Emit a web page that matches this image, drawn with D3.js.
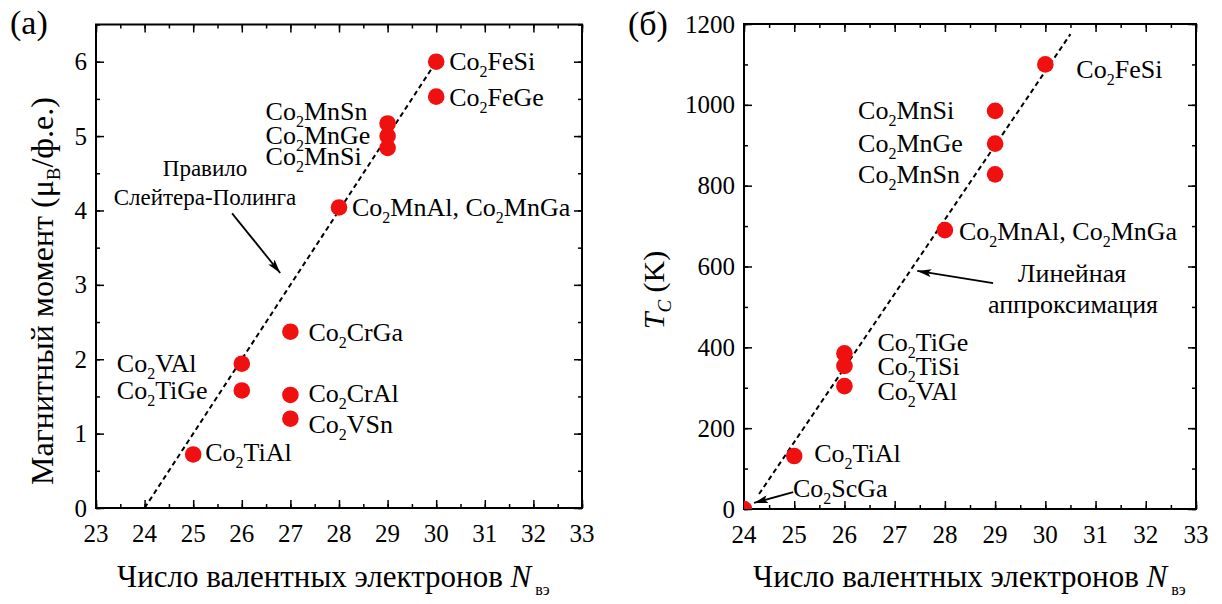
<!DOCTYPE html>
<html><head><meta charset="utf-8">
<script src="https://cdn.jsdelivr.net/npm/d3@7"></script>
</head>
<body style="margin:0;background:#fff">
<svg id="c" width="1222" height="604" font-family="Liberation Serif" style="display:block"></svg>
<script>
// ---------- DATA ----------
// Panel (a): magnetic moment vs number of valence electrons
const momentNames = ["Co2FeSi","Co2FeGe","Co2MnSn","Co2MnGe","Co2MnSi","Co2MnAl, Co2MnGa","Co2CrGa","Co2VAl","Co2TiGe","Co2CrAl","Co2VSn","Co2TiAl"];
const momentN     = [30, 30, 29, 29, 29, 28, 27, 26, 26, 27, 27, 25];
const momentM     = [6.0, 5.53, 5.17, 5.0, 4.84, 4.04, 2.37, 1.94, 1.58, 1.52, 1.2, 0.72];
const slaterN     = [24.0, 29.9];
const slaterM     = [0.0, 5.9];
const momentXTicks = [23,24,25,26,27,28,29,30,31,32,33];
const momentYTicks = [0,1,2,3,4,5,6];

// Panel (б): Curie temperature vs number of valence electrons
const tcNames = ["Co2FeSi","Co2MnSi","Co2MnGe","Co2MnSn","Co2MnAl, Co2MnGa","Co2TiGe","Co2TiSi","Co2VAl","Co2TiAl","Co2ScGa"];
const tcN     = [30, 29, 29, 29, 28, 26, 26, 26, 25, 24];
const tcT     = [1100, 985, 904, 828, 690, 385, 354, 304, 131, 0];
const fitN    = [24.3, 30.5];
const fitT    = [37, 1175];
const tcXTicks = [24,25,26,27,28,29,30,31,32,33];
const tcYTicks = [0,200,400,600,800,1000,1200];

// ---------- LAYOUT (pixel offsets of labels relative to their points) ----------
const momentLabelOff = [[13,8],[13,9],[-122,-3],[-122,7.5],[-122,17.5],[13,9],[18,9],[-125,8],[-125,9],[18,7],[18,14],[12,7]];
const tcLabelOff = [[31,14],[-137,8.5],[-137,8],[-137,9],[14,10],[33,-2],[33,9.5],[33,14],[20,5.5],[49,-12]];

const FONT = "Liberation Serif";
const svg = d3.select("#c");
const RED = "#f01010";

function addFormula(sel, str){
  // digits inside a formula are drawn as subscripts
  const parts = str.split(/(\d)/).filter(p=>p!=="");
  let pendingUp = false;
  parts.forEach(p=>{
    if(/^\d$/.test(p)){
      sel.append("tspan").attr("font-size",16).attr("dy",7).text(p);
      pendingUp = true;
    } else {
      const ts = sel.append("tspan").text(p);
      if(pendingUp){ ts.attr("dy",-7); pendingUp=false; }
    }
  });
}

const defs = svg.append("defs");
defs.append("marker").attr("id","ah").attr("viewBox","0 0 14 8").attr("refX",14).attr("refY",4)
  .attr("markerWidth",14).attr("markerHeight",8).attr("markerUnits","userSpaceOnUse").attr("orient","auto")
  .append("path").attr("d","M0,0 L14,4 L0,8 L3,4 Z").attr("fill","#000");

function panel(cfg){
  const g = svg.append("g");
  const x = d3.scaleLinear().domain(cfg.xd).range([cfg.x0,cfg.x1]);
  const y = d3.scaleLinear().domain(cfg.yd).range([cfg.y0,cfg.y1]);
  const clipId = cfg.id+"clip";
  defs.append("clipPath").attr("id",clipId).append("rect")
    .attr("x",cfg.x0).attr("y",cfg.y1).attr("width",cfg.x1-cfg.x0).attr("height",cfg.y0-cfg.y1);

  const xMinor = d3.range(cfg.xd[0], cfg.xd[1]+0.001, 0.5);
  const yMinor = d3.range(cfg.yd[0], cfg.yd[1]+0.001, cfg.yMinorStep);
  const T=8, t=4;
  g.append("g").attr("transform",`translate(0,${cfg.y0})`).call(d3.axisBottom(x).tickValues(cfg.xTicks).tickSize(-T).tickFormat(""));
  g.append("g").attr("transform",`translate(0,${cfg.y0})`).call(d3.axisBottom(x).tickValues(xMinor).tickSize(-t).tickFormat(""));
  g.append("g").attr("transform",`translate(0,${cfg.y1})`).call(d3.axisTop(x).tickValues(cfg.xTicks).tickSize(-T).tickFormat(""));
  g.append("g").attr("transform",`translate(0,${cfg.y1})`).call(d3.axisTop(x).tickValues(xMinor).tickSize(-t).tickFormat(""));
  g.append("g").attr("transform",`translate(${cfg.x0},0)`).call(d3.axisLeft(y).tickValues(cfg.yTicks).tickSize(-T).tickFormat(""));
  g.append("g").attr("transform",`translate(${cfg.x0},0)`).call(d3.axisLeft(y).tickValues(yMinor).tickSize(-t).tickFormat(""));
  g.append("g").attr("transform",`translate(${cfg.x1},0)`).call(d3.axisRight(y).tickValues(cfg.yTicks).tickSize(-T).tickFormat(""));
  g.append("g").attr("transform",`translate(${cfg.x1},0)`).call(d3.axisRight(y).tickValues(yMinor).tickSize(-t).tickFormat(""));
  g.selectAll(".domain").remove();
  g.selectAll(".tick text").remove();
  g.selectAll(".tick line").attr("stroke","#000").attr("stroke-width",1.5);
  g.append("g").selectAll("text").data(cfg.xTicks).join("text")
    .attr("x",d=>x(d)).attr("y",cfg.y0+34).attr("text-anchor","middle")
    .attr("font-family",FONT).attr("font-size",25).attr("fill","#000").text(d=>d);
  g.append("g").selectAll("text").data(cfg.yTicks).join("text")
    .attr("x",cfg.x0-9).attr("y",d=>y(d)+8.5).attr("text-anchor","end")
    .attr("font-family",FONT).attr("font-size",25).attr("fill","#000").text(d=>d);
  g.append("rect").attr("x",cfg.x0).attr("y",cfg.y1).attr("width",cfg.x1-cfg.x0).attr("height",cfg.y0-cfg.y1)
    .attr("fill","none").attr("stroke","#000").attr("stroke-width",2);

  const lineData = cfg.lineX.map((v,i)=>[v,cfg.lineY[i]]);
  g.append("path").attr("d",d3.line().x(d=>x(d[0])).y(d=>y(d[1]))(lineData))
    .attr("stroke","#000").attr("stroke-width",2).attr("stroke-dasharray","5,3.5").attr("fill","none");

  const pts = cfg.ptX.map((v,i)=>({n:v,v:cfg.ptY[i],name:cfg.names[i],off:cfg.off[i]}));
  g.append("g").attr("clip-path",`url(#${clipId})`).selectAll("circle").data(pts).join("circle")
    .attr("cx",d=>x(d.n)).attr("cy",d=>y(d.v)).attr("r",8.3).attr("fill",RED);
  pts.forEach(d=>{
    const tx = g.append("text").attr("x",x(d.n)+d.off[0]).attr("y",y(d.v)+d.off[1])
      .attr("font-family",FONT).attr("font-size",26).attr("fill","#000");
    addFormula(tx,d.name);
  });
  return {g,x,y};
}

const A = panel({id:"a",xd:[23,33],yd:[0,6.5],x0:96,x1:582,y0:508,y1:24.5,yMinorStep:0.5,
  xTicks:momentXTicks,yTicks:momentYTicks,lineX:slaterN,lineY:slaterM,
  ptX:momentN,ptY:momentM,names:momentNames,off:momentLabelOff});
const B = panel({id:"b",xd:[24,33],yd:[0,1200],x0:744,x1:1196,y0:509,y1:24,yMinorStep:100,
  xTicks:tcXTicks,yTicks:tcYTicks,lineX:fitN,lineY:fitT,
  ptX:tcN,ptY:tcT,names:tcNames,off:tcLabelOff});

function arrow(P,x1,y1,x2,y2){
  P.g.append("line").attr("x1",P.x(x1)).attr("y1",P.y(y1)).attr("x2",P.x(x2)).attr("y2",P.y(y2))
    .attr("stroke","#000").attr("stroke-width",1.8).attr("marker-end","url(#ah)");
}
arrow(A,25.8,3.96,26.79,3.16);
arrow(B,28.96,559,27.45,589);
arrow(B,24.98,42,24.2,15);

function note(x,y,str,size){
  svg.append("text").attr("x",x).attr("y",y).attr("text-anchor","middle").attr("font-family",FONT)
    .attr("font-size",size).attr("fill","#000").text(str);
}
note(205,176,"Правило",23);
note(205,205,"Слейтера-Полинга",23);
note(1072,282,"Линейная",26);
note(1073,313,"аппроксимация",26);

svg.append("text").attr("x",10).attr("y",34).attr("font-family",FONT).attr("font-size",34).text("(a)");
svg.append("text").attr("x",628).attr("y",35).attr("font-family",FONT).attr("font-size",34).text("(б)");

function xTitle(x0){
  const t = svg.append("text").attr("x",x0).attr("y",587).attr("font-family",FONT).attr("font-size",31).attr("fill","#000");
  t.append("tspan").text("Число валентных электронов ");
  t.append("tspan").attr("font-style","italic").text("N");
  t.append("tspan").attr("font-size",16).attr("dx",4).attr("dy",8).text("вэ");
}
xTitle(117);
xTitle(753);

const yt = svg.append("text").attr("transform","translate(53,291) rotate(-90)").attr("text-anchor","middle")
  .attr("font-family",FONT).attr("font-size",32).attr("fill","#000");
yt.append("tspan").text("Магнитный момент (μ");
yt.append("tspan").attr("font-size",19).attr("dy",7).text("B");
yt.append("tspan").attr("dy",-7).text("/ф.е.)");

const yt2 = svg.append("text").attr("transform","translate(664,290) rotate(-90)").attr("text-anchor","middle")
  .attr("font-family",FONT).attr("font-size",30).attr("fill","#000");
yt2.append("tspan").attr("font-style","italic").text("T");
yt2.append("tspan").attr("font-style","italic").attr("font-size",19).attr("dy",7).text("C");
yt2.append("tspan").attr("dy",-7).text(" (K)");
</script>
</body></html>
